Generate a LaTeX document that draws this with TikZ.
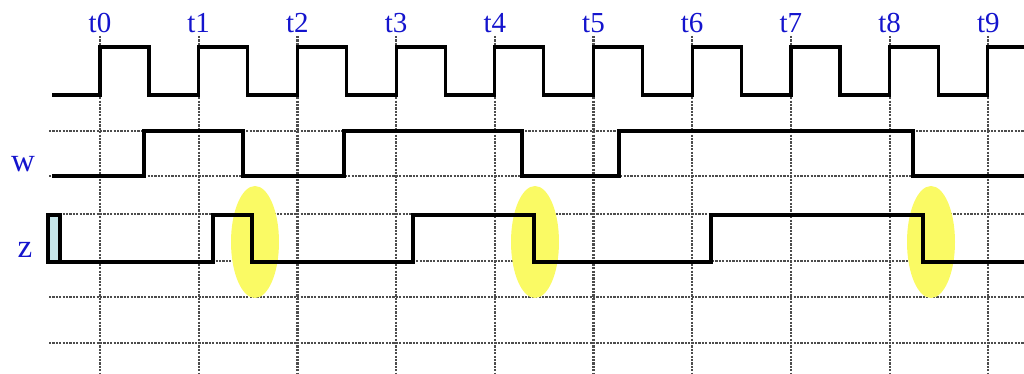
\documentclass[tikz,border=0pt]{standalone}
\usepackage{fontspec}
\setmainfont{Liberation Serif}
\definecolor{lblue}{RGB}{20,20,205}
\definecolor{hilite}{RGB}{250,250,100}
\definecolor{zfill}{RGB}{198,230,234}
\tikzset{
  wave/.style={line width=1.6pt,line join=miter},
  dotline/.style={gray!60!black,line width=1.1pt,dash pattern=on 1.1pt off 0.6pt},
  tlabel/.style={text=lblue,font=\fontsize{14.5}{16}\selectfont,anchor=base},
  siglabel/.style={text=lblue,font=\fontsize{16.5}{18}\selectfont,anchor=base},
}
\begin{document}
\begin{tikzpicture}[x=0.5pt,y=-0.5pt]
\useasboundingbox (0,0) rectangle (1024,374);
% grid
\foreach \k in {0,...,9} \draw[dotline] ({100+98.7*\k},36) -- ({100+98.7*\k},374);
\foreach \y in {131,176,214,261,297,343} \draw[dotline] (49,\y) -- (1024,\y);
% highlights
\fill[hilite] (255,242) ellipse (24 and 56);
\fill[hilite] (535,242) ellipse (24 and 56);
\fill[hilite] (931,242) ellipse (24 and 56);
% clock
\draw[wave] (52,95) foreach \k in {0,...,8} {-- ({100+98.7*\k},95) -- ++(0,-48) -- ++(49,0) -- ++(0,48)}
  -- (987.4,95) -- (987.4,47) -- (1024,47);
% w
\draw[wave] (52,176) -- (144,176) -- (144,131) -- (243,131) -- (243,176) -- (344,176) -- (344,131)
  -- (522,131) -- (522,176) -- (619,176) -- (619,131) -- (913,131) -- (913,176) -- (1024,176);
% z
\filldraw[wave,fill=zfill] (48,215) rectangle (60,262);
\draw[wave] (46,262) -- (213,262) -- (213,215) -- (252,215) -- (252,262) -- (413,262) -- (413,215)
  -- (534,215) -- (534,262) -- (711,262) -- (711,215) -- (923,215) -- (923,262) -- (1024,262);
% labels
\foreach \k in {0,...,9} \node[tlabel] (t\k) at ({100+98.7*\k},33) {t\k};
\node[siglabel] (lw) at (23,172) {w};
\node[siglabel] (lz) at (25,257) {z};
\end{tikzpicture}
\end{document}
